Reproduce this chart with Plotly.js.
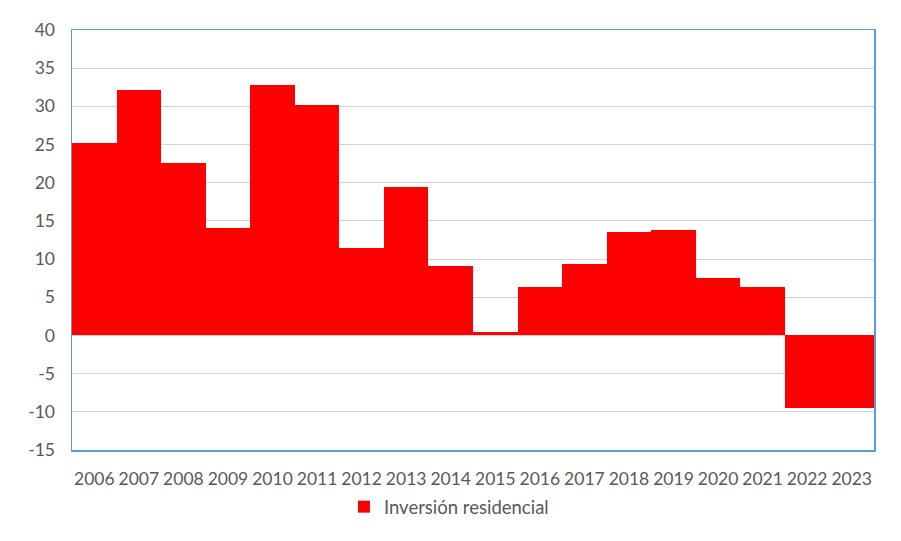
<!DOCTYPE html>
<html>
<head>
<meta charset="utf-8">
<script src="https://cdn.plot.ly/plotly-3.0.1.min.js"></script>
<style>html,body{margin:0;padding:0;background:#fff;}#chart{width:901px;height:541px;}</style>
</head>
<body>
<div id="chart"></div>
<script>
const years = ["2006","2007","2008","2009","2010","2011","2012","2013","2014","2015","2016","2017","2018","2019","2020","2021","2022","2023"];
const inversionResidencial = [25.2, 32.1, 22.6, 14.1, 32.8, 30.2, 11.5, 19.4, 9.1, 0.5, 6.4, 9.4, 13.5, 13.8, 7.5, 6.4, -9.5, -9.5];
const seriesName = "Inversión residencial";
const yTicks = [-15, -10, -5, 0, 5, 10, 15, 20, 25, 30, 35, 40];

const trace = {
  type: "bar",
  x: years,
  y: inversionResidencial,
  name: seriesName,
  marker: {color: "#FF0000", line: {width: 0}},
  showlegend: true
};

const tickFont = {family: "Lato, 'Open Sans', sans-serif", size: 17.5, color: "#595959"};
const legendFont = {family: "Lato, 'Open Sans', sans-serif", size: 18.5, color: "#595959"};

const layout = {
  width: 901, height: 541,
  margin: {l: 72, r: 27, t: 30, b: 91},
  paper_bgcolor: "#fff", plot_bgcolor: "#fff",
  bargap: 0,
  font: tickFont,
  xaxis: {
    type: "category",
    showline: true, mirror: true, linecolor: "#5B9BD5", linewidth: 1.5,
    showgrid: false, ticks: "", tickfont: tickFont, zeroline: false,
    ticklabelstandoff: 12
  },
  yaxis: {
    range: [-15, 40], tickvals: yTicks, ticktext: yTicks.map(String),
    showline: true, mirror: true, linecolor: "#5B9BD5", linewidth: 1.5,
    showgrid: true, gridcolor: "#D3D3D3", gridwidth: 1,
    zeroline: true, zerolinecolor: "#D3D3D3", zerolinewidth: 1.5,
    ticks: "", tickfont: tickFont, ticklabelstandoff: 12
  },
  legend: {
    orientation: "h", x: 0.47, xanchor: "center", y: -0.136, yanchor: "middle",
    font: legendFont, bgcolor: "rgba(0,0,0,0)", itemwidth: 30
  },
  showlegend: true
};

Plotly.newPlot("chart", [trace], layout, {displayModeBar: false, staticPlot: true});
</script>
</body>
</html>
